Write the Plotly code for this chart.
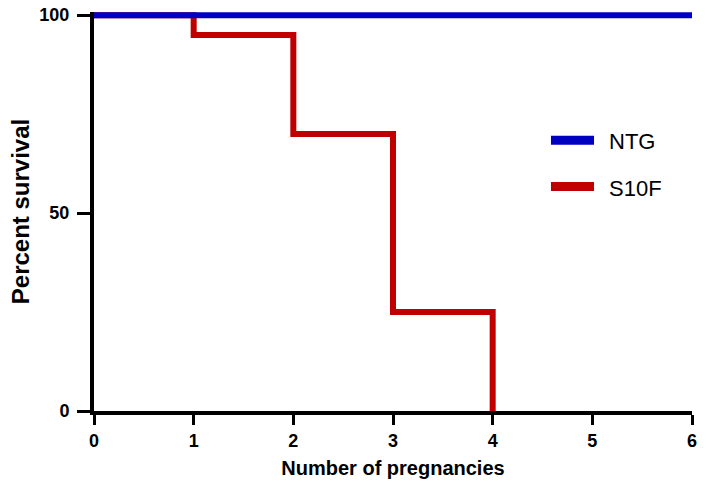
import plotly.graph_objects as go

# survival data (Kaplan-Meier steps)
ntg_x = [0, 6]
ntg_y = [100, 100]
s10f_x = [0, 1, 2, 3, 4]
s10f_y = [100, 95, 70, 25, 0]

x_ticks = [0, 1, 2, 3, 4, 5, 6]
y_ticks = [0, 50, 100]

blue = "#0000C0"
red = "#C00000"
font = "Liberation Sans, Arial, sans-serif"

fig = go.Figure()

# red first so the blue sits on top at 100%
fig.add_trace(go.Scatter(x=s10f_x, y=s10f_y, mode="lines", name="S10F",
                         line=dict(color=red, width=6, shape="hv"), showlegend=False))
fig.add_trace(go.Scatter(x=ntg_x, y=ntg_y, mode="lines", name="NTG",
                         line=dict(color=blue, width=6), showlegend=False))

# hand-drawn legend (long, thick samples like the original)
legend_items = [("NTG", blue, 68.4), ("S10F", red, 56.7)]
for label, col, yy in legend_items:
    fig.add_shape(type="line", xref="x", yref="y", x0=4.585, x1=5.017, y0=yy, y1=yy,
                  line=dict(color=col, width=9))
    fig.add_annotation(x=5.15, y=yy - 0.4, xref="x", yref="y", text=label, showarrow=False,
                       xanchor="left", yanchor="middle",
                       font=dict(family=font, size=22, color="black"))

axis_common = dict(showgrid=False, zeroline=False, showline=True, linecolor="black", linewidth=4,
                   ticks="outside", tickwidth=3, tickcolor="black", automargin=False,
                   ticklabeloverflow="allow",
                   tickfont=dict(family=font, size=18, color="black", weight="bold"))

fig.update_xaxes(range=[0, 6], tickvals=x_ticks, ticklen=10,
                 title=dict(text="Number of pregnancies",
                            font=dict(family=font, size=20, color="black", weight="bold"), standoff=12),
                 **axis_common)
fig.update_yaxes(range=[0, 100.8], tickvals=y_ticks, ticklen=13, ticklabelstandoff=4,
                 title=dict(text="Percent survival",
                            font=dict(family=font, size=24, color="black", weight="bold"), standoff=4),
                 **axis_common)

fig.update_layout(
    width=709, height=492,
    margin=dict(l=94, r=17, t=12, b=81),
    plot_bgcolor="white", paper_bgcolor="white",
    showlegend=False,
)

# drop the default body margin so the figure fills the window exactly
fig.write_html("out.html", config={"displayModeBar": False},
               post_script="document.body.style.margin='0';")
